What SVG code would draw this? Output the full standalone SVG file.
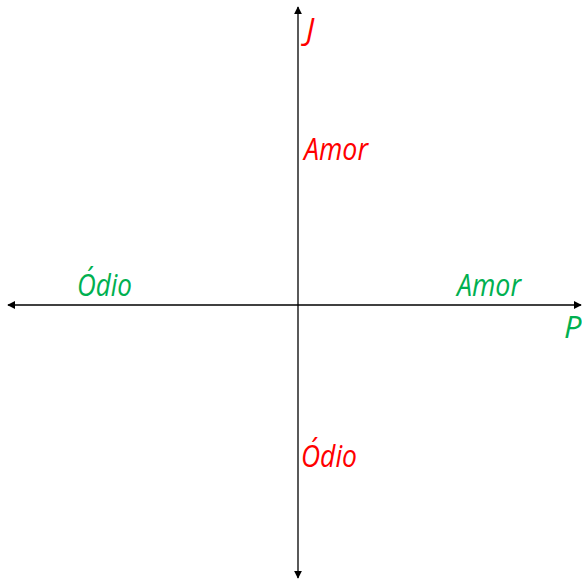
<svg xmlns="http://www.w3.org/2000/svg" width="582" height="579" viewBox="0 0 582 579">
<style>
.t{font-family:"Open Sans","Noto Sans",sans-serif;font-style:italic;font-size:31px}
.r{fill:#FF0000}.g{fill:#00B050}
.ax{stroke:#000;stroke-width:1.3;fill:none}
</style>
<defs>
<marker id="ah" viewBox="0 0 10 10" refX="9" refY="5" markerWidth="8" markerHeight="8" markerUnits="userSpaceOnUse" orient="auto-start-reverse">
<path d="M0,0 L10,5 L0,10 z" fill="#000"/>
</marker>
</defs>
<g id="connectors">
<line class="ax" x1="298" y1="578" x2="298" y2="7" marker-start="url(#ah)" marker-end="url(#ah)"/>
<line class="ax" x1="8" y1="305" x2="581" y2="305" marker-start="url(#ah)" marker-end="url(#ah)"/>
</g>
<g id="label-J"><text class="t r" x="306" y="40" font-size="26">J</text></g>
<g id="label-amor-red"><text class="t r" x="304" y="160" textLength="64" lengthAdjust="spacingAndGlyphs">Amor</text></g>
<g id="label-odio-green"><text class="t g" x="77" y="296" textLength="55" lengthAdjust="spacingAndGlyphs">Ódio</text></g>
<g id="label-amor-green"><text class="t g" x="457" y="296" textLength="64" lengthAdjust="spacingAndGlyphs">Amor</text></g>
<g id="label-P"><text class="t g" x="564" y="338" font-size="24">P</text></g>
<g id="label-odio-red"><text class="t r" x="301" y="467" textLength="56" lengthAdjust="spacingAndGlyphs">Ódio</text></g>
</svg>
